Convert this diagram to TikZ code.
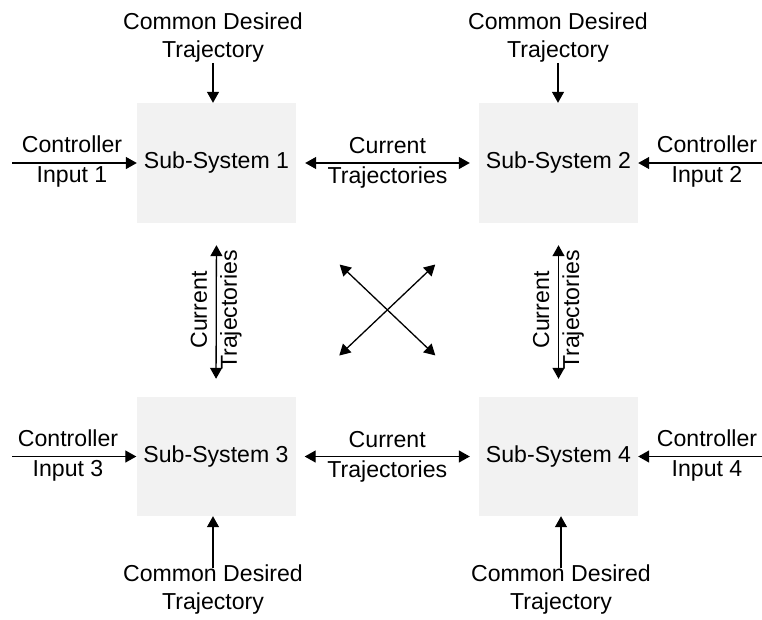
\documentclass[tikz,border=0pt]{standalone}
\usepackage{fontspec}
\setmainfont{Liberation Sans}
\usetikzlibrary{arrows.meta}
\definecolor{boxgray}{RGB}{242,242,242}

\begin{document}
\begin{tikzpicture}[x=1pt,y=-1pt,
    >={Triangle[length=11pt,width=12pt]},
    every node/.style={font=\fontsize{23.1}{28}\selectfont, align=center, inner sep=0pt},
    subsys/.style={fill=boxgray, minimum width=159pt, minimum height=120pt},
    link/.style={line width=1.3pt}]
                 \useasboundingbox (0,0) rectangle (762,619);

                 % Sub-systems
                 \node[subsys] (s1) at (216.5,163) {Sub-System 1};
                 \node[subsys] (s2) at (558.5,163) {Sub-System 2};
                 \node[subsys, minimum height=119pt] (s3) at (216,456.5) {Sub-System 3};
                 \node[subsys, minimum height=119pt] (s4) at (558.5,456.5) {Sub-System 4};

                 % Common desired trajectory
                 \node (d1) at (213,38) {Common Desired\\Trajectory};
                 \node (d2) at (558,38) {Common Desired\\Trajectory};
                 \node (d3) at (213,590) {Common Desired\\Trajectory};
                 \node (d4) at (561,590) {Common Desired\\Trajectory};
                 \draw[link,->] (d1.south) -- (d1.south |- s1.north);
                 \draw[link,->] (d2.south) -- (d2.south |- s2.north);
                 \draw[link,->] ([yshift=-3pt]d3.north) -- (d3.north |- s3.south);
                 \draw[link,->] ([yshift=-3pt]d4.north) -- (d4.north |- s4.south);

                 % Controller inputs
                 \node (c1) at (72,162) {Controller\\[2pt]Input 1};
                 \node (c2) at (707,162) {Controller\\[2pt]Input 2};
                 \node (c3) at (68,456) {Controller\\[2pt]Input 3};
                 \node (c4) at (707,456) {Controller\\[2pt]Input 4};
                 \coordinate (in1) at (12,163);
                 \coordinate (in2) at (762,163);
                 \coordinate (in3) at (12,456.5);
                 \coordinate (in4) at (762,456.5);
                 \draw[link,->] (in1) -- (s1.west);
                 \draw[link,->] (in2) -- (s2.east);
                 \draw[link,->] (in3) -- (s3.west);
                 \draw[link,->] (in4) -- (s4.east);

                 % Current trajectories between neighbours
                 \draw[link,<->,shorten <=9pt,shorten >=9pt] (s1.east) -- node {Current\\[2pt]Trajectories} (s2.west);
                 \draw[link,<->,shorten <=9pt,shorten >=9pt] (s3.east) -- node {Current\\[2pt]Trajectories} (s4.west);
                 \draw[link,<->,shorten <=22pt,shorten >=18pt] (s1.south) -- node[rotate=90] {Current\\[2pt]Trajectories} (s3.north);
                 \draw[link,<->,shorten <=22pt,shorten >=18pt] (s2.south) -- node[rotate=90] {Current\\[2pt]Trajectories} (s4.north);

                 % Diagonal links
                 \draw[link,<->,shorten <=60pt,shorten >=60pt] (s1.south east) -- (s4.north west);
                 \draw[link,<->,shorten <=60pt,shorten >=60pt] (s2.south west) -- (s3.north east);
                \end{tikzpicture}
\end{document}
